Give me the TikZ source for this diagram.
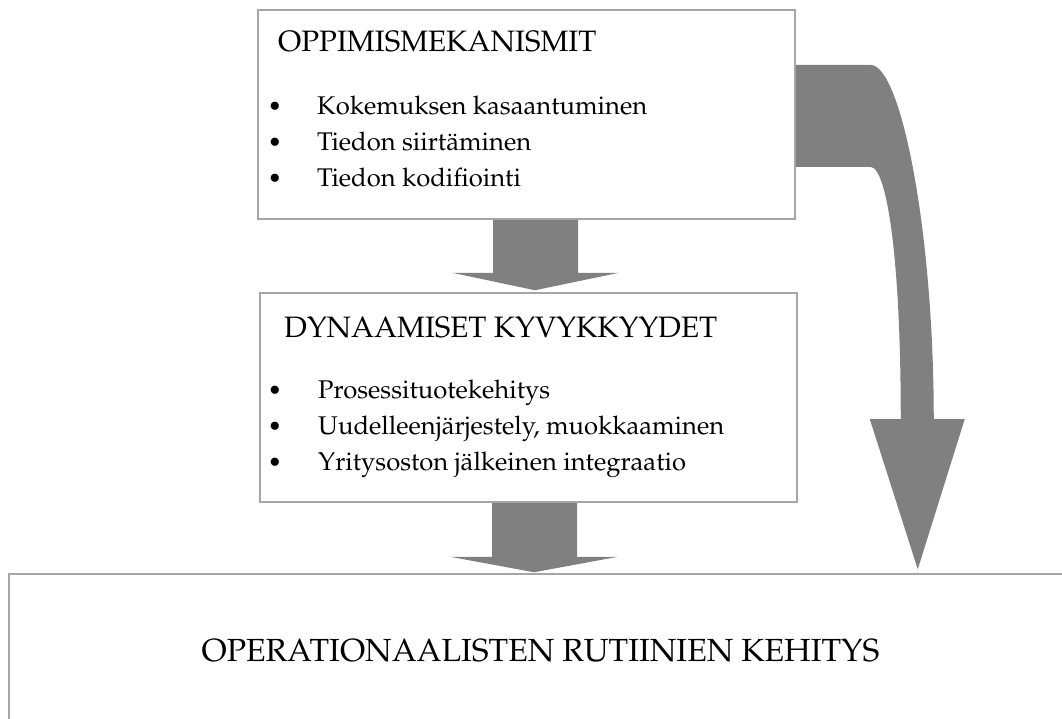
\documentclass[tikz,border=0pt]{standalone}
\usepackage[T1]{fontenc}
\usepackage{mathpazo}
\usetikzlibrary{calc,backgrounds}
\definecolor{boxgray}{RGB}{166,166,166}
\definecolor{arrowgray}{RGB}{128,128,128}
\begin{document}
\begin{tikzpicture}[x=1pt,y=-1pt,
  box/.style={draw=boxgray, line width=1.5pt, rectangle, inner sep=0pt},
  blk/.style={fill=arrowgray, draw=none},
  ttl/.style={anchor=base west, inner sep=0pt, font=\fontsize{29.5}{35}\selectfont},
  itm/.style={anchor=base west, inner sep=0pt, font=\fontsize{25.6}{30}\selectfont},
  bul/.style={anchor=base, inner sep=0pt, font=\fontsize{24}{28}\selectfont},
  big/.style={anchor=base, inner sep=0pt, font=\fontsize{32}{38}\selectfont}]
\clip (0,0) rectangle (1062,719);
\useasboundingbox (0,0) rectangle (1062,719);

% boxes
\node[box, minimum width=537pt, minimum height=209pt] (top) at (526.5,114.5) {};
\node[box, minimum width=537pt, minimum height=209pt] (mid) at (528.5,397.5) {};
\node[box, minimum width=1070pt, minimum height=200pt] (bot) at (544,674) {};

% texts, top box
\node[ttl] (t1) at (278,52) {OPPIMISMEKANISMIT};
\node[bul] (b11) at (275,115) {\textbullet};
\node[bul] (b12) at (275,151) {\textbullet};
\node[bul] (b13) at (275,187) {\textbullet};
\node[itm] (i11) at (317,115) {Kokemuksen kasaantuminen};
\node[itm] (i12) at (317,151) {Tiedon siirtäminen};
\node[itm] (i13) at (317,187) {Tiedon kodifiointi};

% texts, middle box
\node[ttl] (t2) at (284,337) {DYNAAMISET KYVYKKYYDET};
\node[bul] (b21) at (275,398) {\textbullet};
\node[bul] (b22) at (275,434) {\textbullet};
\node[bul] (b23) at (275,470) {\textbullet};
\node[itm] (i21) at (318,398) {Prosessituotekehitys};
\node[itm] (i22) at (318,434) {Uudelleenjärjestely, muokkaaminen};
\node[itm] (i23) at (318,470) {Yritysoston jälkeinen integraatio};

% bottom text
\node[big] (t3) at (540.5,661) {OPERATIONAALISTEN RUTIINIEN KEHITYS};

% helper points for arrow tips
\coordinate (a1) at ($(top.south)+(8.5,0)$);
\coordinate (a2) at ($(mid.south)+(5.5,0)$);
\coordinate (a3) at ($(top.east)+(122,0)$);

\begin{scope}[on background layer]
% arrow top -> mid
\fill[blk] ($(top.south)+(-33.5,0)$) -- ($(top.south)+(51.5,0)$)
  -- ($(top.south)+(51.5,53)$) -- ($(top.south)+(92.5,53)$)
  -- ($(a1 |- mid.north)+(0,-2)$)
  -- ($(top.south)+(-74.5,53)$) -- ($(top.south)+(-33.5,53)$) -- cycle;
% arrow mid -> bot
\fill[blk] ($(mid.south)+(-36.5,0)$) -- ($(mid.south)+(48.5,0)$)
  -- ($(mid.south)+(48.5,54)$) -- ($(mid.south)+(89.5,54)$)
  -- ($(a2 |- bot.north)+(0,-1)$)
  -- ($(mid.south)+(-78.5,54)$) -- ($(mid.south)+(-36.5,54)$) -- cycle;
% curved arrow top -> bot
\fill[blk] ($(top.east)+(0,-49.5)$) -- ($(top.east)+(75,-49.5)$)
  .. controls ($(top.east)+(105,-49.5)$) and ($(top.east)+(138,115.5)$) .. ($(top.east)+(138,304.5)$)
  -- ($(top.east)+(169,304.5)$)
  -- ($(a3 |- bot.north)+(0,-4)$)
  -- ($(top.east)+(74,304.5)$) -- ($(top.east)+(105,304.5)$)
  .. controls ($(top.east)+(105,135.5)$) and ($(top.east)+(90,52.5)$) .. ($(top.east)+(75,52.5)$)
  -- ($(top.east)+(0,52.5)$) -- cycle;
\end{scope}
\end{tikzpicture}
\end{document}
